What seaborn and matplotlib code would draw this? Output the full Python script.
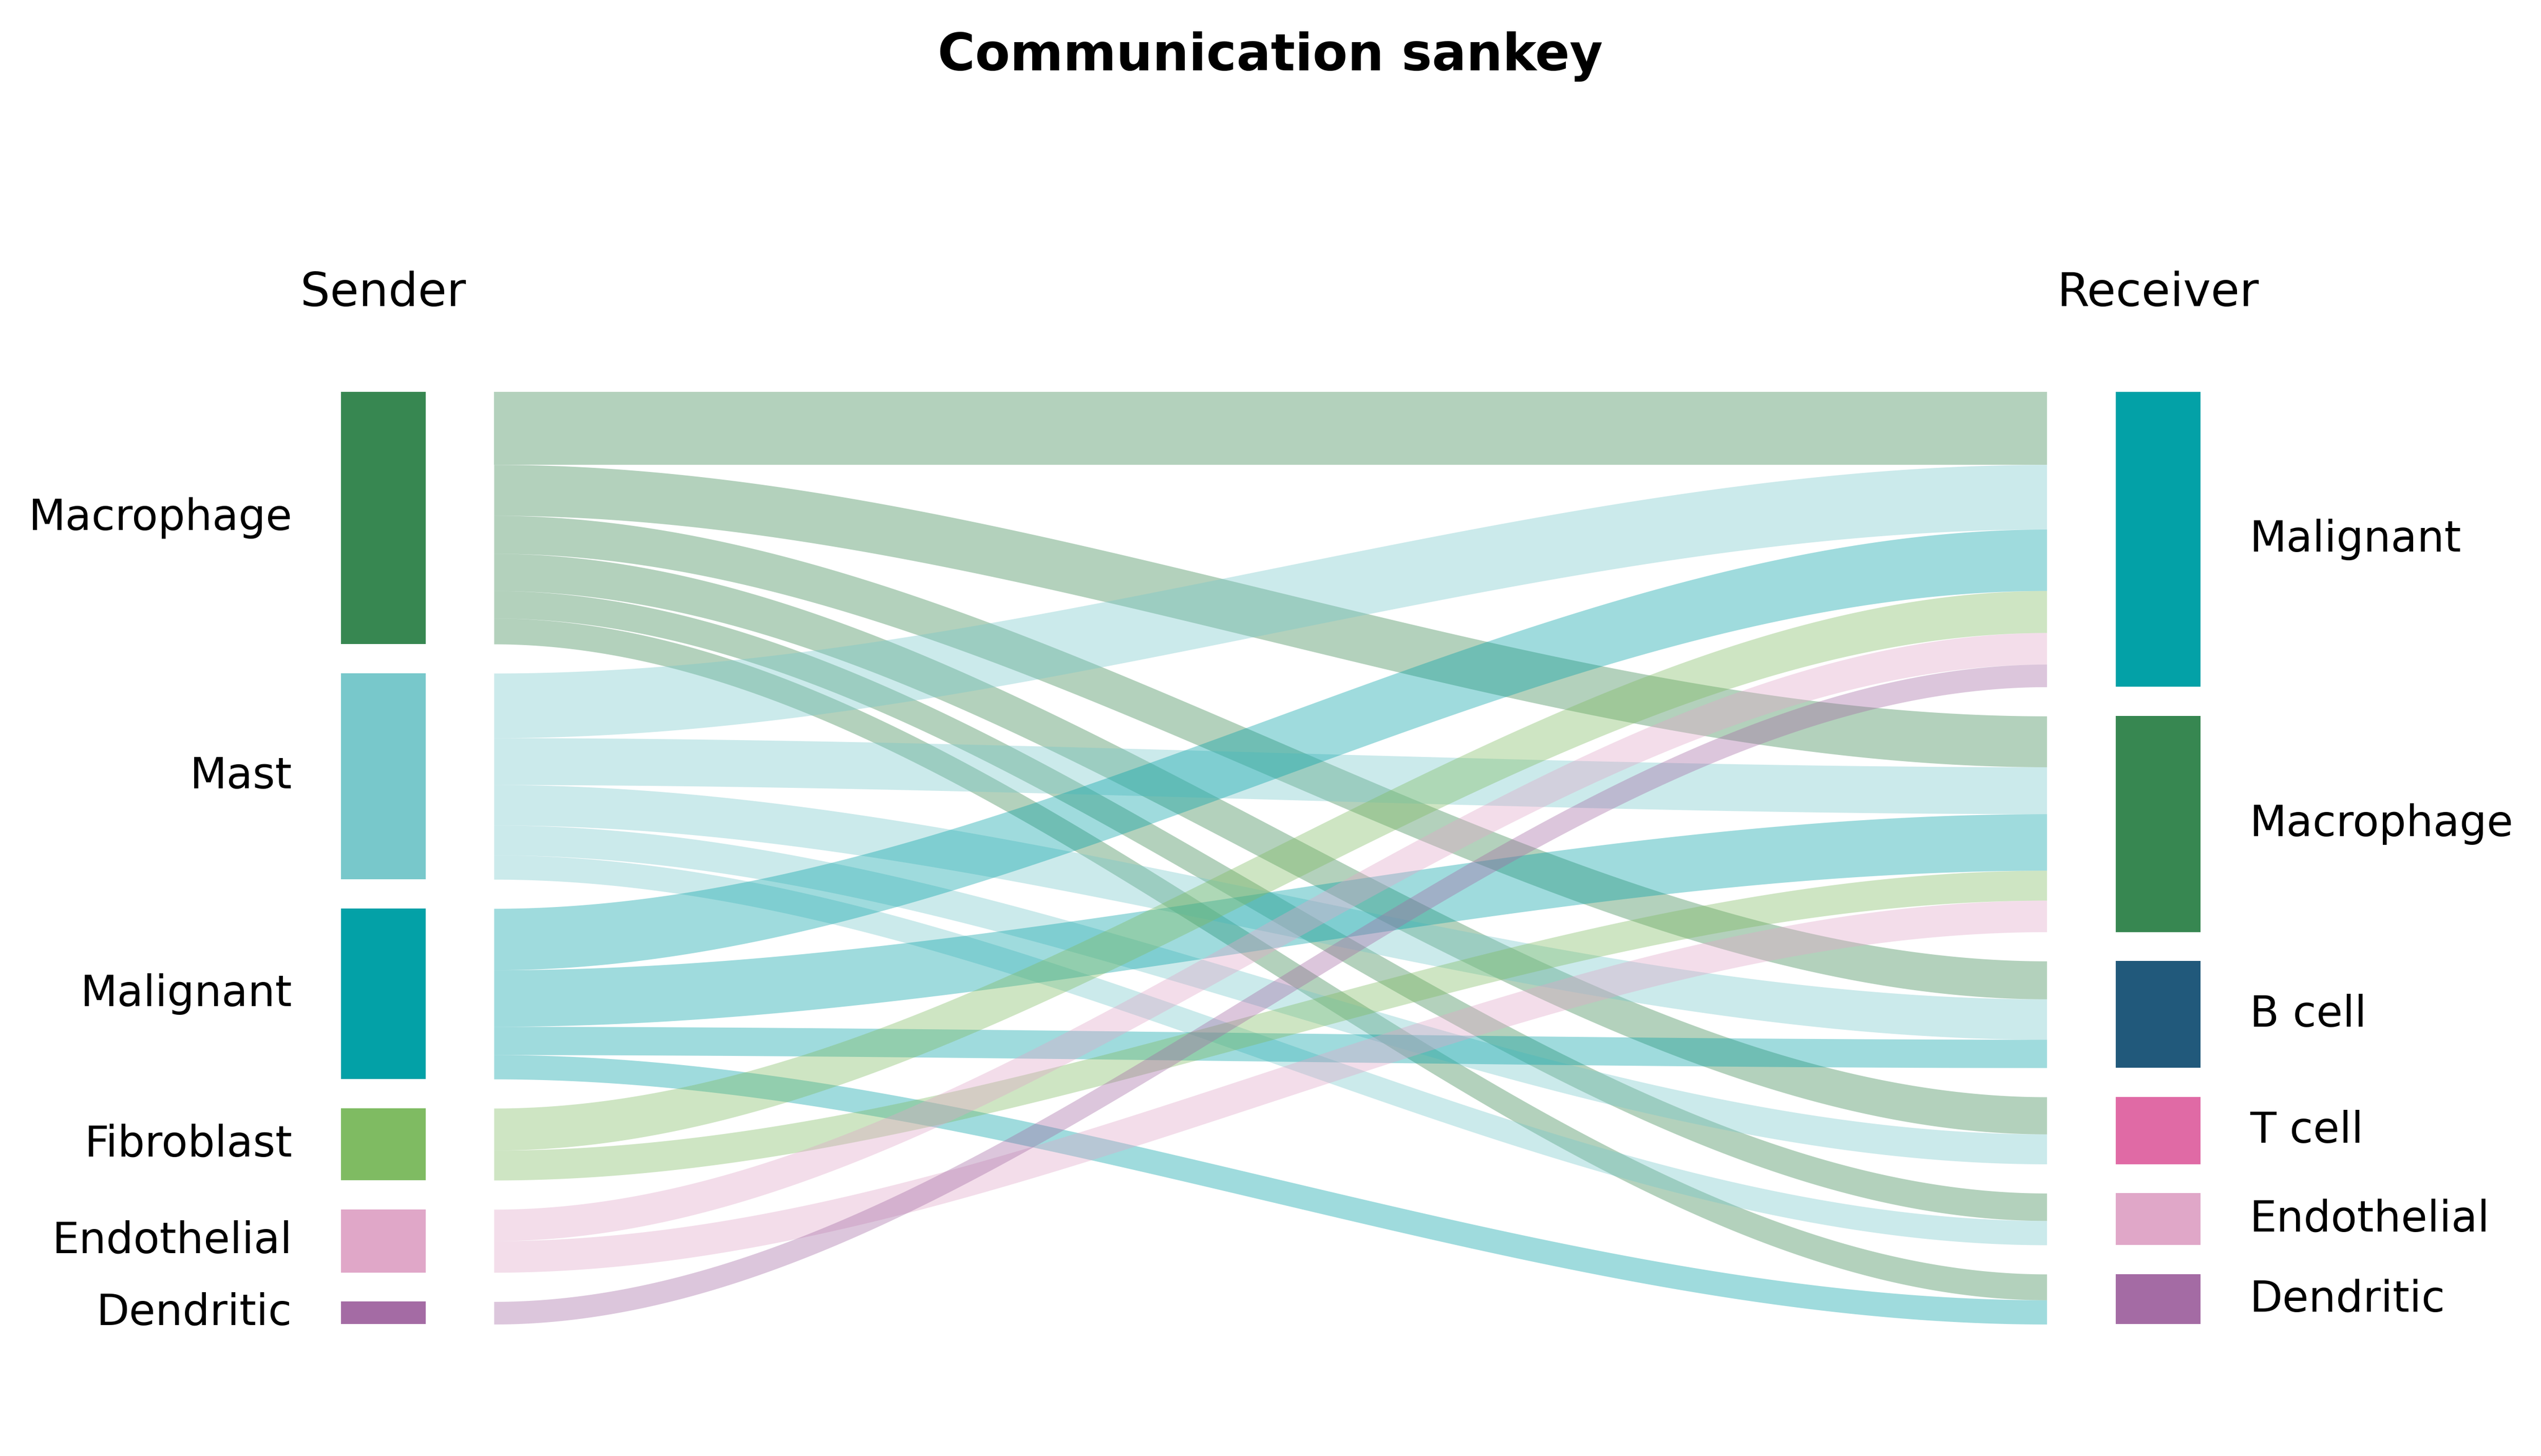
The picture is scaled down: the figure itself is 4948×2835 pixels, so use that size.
import numpy as np
import matplotlib
matplotlib.use("Agg")
import matplotlib.pyplot as plt
import seaborn as sns

# cell types on each side, in drawing order (largest first)
senders = ["Macrophage", "Mast", "Malignant", "Fibroblast", "Endothelial", "Dendritic"]
receivers = ["Malignant", "Macrophage", "B cell", "T cell", "Endothelial", "Dendritic"]

# communication links: sender -> receiver with weight
link_src = ["Macrophage", "Macrophage", "Macrophage", "Macrophage", "Macrophage", "Macrophage",
            "Mast", "Mast", "Mast", "Mast", "Mast",
            "Malignant", "Malignant", "Malignant", "Malignant",
            "Fibroblast", "Fibroblast",
            "Endothelial", "Endothelial",
            "Dendritic"]
link_dst = ["Malignant", "Macrophage", "B cell", "T cell", "Endothelial", "Dendritic",
            "Malignant", "Macrophage", "B cell", "T cell", "Endothelial",
            "Malignant", "Macrophage", "B cell", "Dendritic",
            "Malignant", "Macrophage",
            "Malignant", "Macrophage",
            "Malignant"]
link_weight = [45, 31.5, 23.5, 23, 17, 16,
               40, 29, 25, 18.5, 15,
               38, 35, 17.5, 15,
               26, 18.5,
               19.5, 19.5,
               14]

palette = {
    "Macrophage": "#378751",
    "Mast": "#78C8CB",
    "Malignant": "#03A1A7",
    "Fibroblast": "#7FBB62",
    "Endothelial": "#E0A7C8",
    "Dendritic": "#A46BA4",
    "B cell": "#21597B",
    "T cell": "#E06AA5",
}

sns.set_theme(style="white")
plt.rcParams["font.family"] = ["DejaVu Sans"]
plt.rcParams["text.color"] = "black"

# layout (figure width = 1568 layout units)
W = 1568.0
FH = W * 2835 / 4948
col_top, col_span = 241.8, 575.3
gap_frac = 0.0371
left_bar = (210.4, 262.7)
right_bar = (1305.5, 1357.8)
flow_x0, flow_x1 = 304.8, 1263.0

total = float(sum(link_weight))
gap = gap_frac * total
H = total + gap * (len(senders) - 1)
ppu = col_span / H

fig = plt.figure(figsize=(4948 / 300, 2835 / 300), dpi=300)
ax = fig.add_axes([0, 0, 1, 1])
ax.set_xlim(0, W)
ax.set_ylim((FH - col_top) / ppu, -col_top / ppu)
ax.axis("off")

def node_positions(names, side):
    tot = {n: 0.0 for n in names}
    for s, d, w in zip(link_src, link_dst, link_weight):
        tot[s if side == "src" else d] += w
    pos, y = {}, 0.0
    for n in names:
        pos[n] = (y, tot[n])
        y += tot[n] + gap
    return pos

src_pos = node_positions(senders, "src")
dst_pos = node_positions(receivers, "dst")

# stacking offsets inside nodes
src_off = {n: src_pos[n][0] for n in senders}
dst_off = {n: dst_pos[n][0] for n in receivers}
order = sorted(range(len(link_weight)),
               key=lambda k: (senders.index(link_src[k]), receivers.index(link_dst[k])))
left_end, right_end = {}, {}
for k in order:
    left_end[k] = src_off[link_src[k]]
    src_off[link_src[k]] += link_weight[k]
order_dst = sorted(range(len(link_weight)),
                   key=lambda k: (receivers.index(link_dst[k]), senders.index(link_src[k])))
for k in order_dst:
    right_end[k] = dst_off[link_dst[k]]
    dst_off[link_dst[k]] += link_weight[k]

# ribbons
xs = np.linspace(flow_x0, flow_x1, 400)
u = (xs - flow_x0) / (flow_x1 - flow_x0)
s = 3 * u ** 2 - 2 * u ** 3
for k in order:
    w = link_weight[k]
    y0, y1 = left_end[k], right_end[k]
    top = y0 + (y1 - y0) * s
    ax.fill_between(xs, top, top + w, color=palette[link_src[k]], alpha=0.38, lw=0)

# node bars
lw_ = left_bar[1] - left_bar[0]
rw_ = right_bar[1] - right_bar[0]
for n in senders:
    y, h = src_pos[n]
    ax.bar(left_bar[0] + lw_ / 2, h, bottom=y, width=lw_, color=palette[n], lw=0)
    ax.text(left_bar[0] - 30, y + h / 2, n, ha="right", va="center", fontsize=20, color="black")
for n in receivers:
    y, h = dst_pos[n]
    ax.bar(right_bar[0] + rw_ / 2, h, bottom=y, width=rw_, color=palette[n], lw=0)
    ax.text(right_bar[1] + 30.5, y + h / 2, n, ha="left", va="center", fontsize=20, color="black")

head_y = (188.9 - col_top) / ppu
ax.text(sum(left_bar) / 2, head_y, "Sender", ha="center", va="baseline", fontsize=21.8, color="black")
ax.text(sum(right_bar) / 2, head_y, "Receiver", ha="center", va="baseline", fontsize=21.8, color="black")

fig.text(0.5, 1 - 43.3 / FH, "Communication sankey", ha="center", va="baseline",
         fontsize=23.8, fontweight="bold", color="black")

fig.savefig("out.png", dpi=300)
